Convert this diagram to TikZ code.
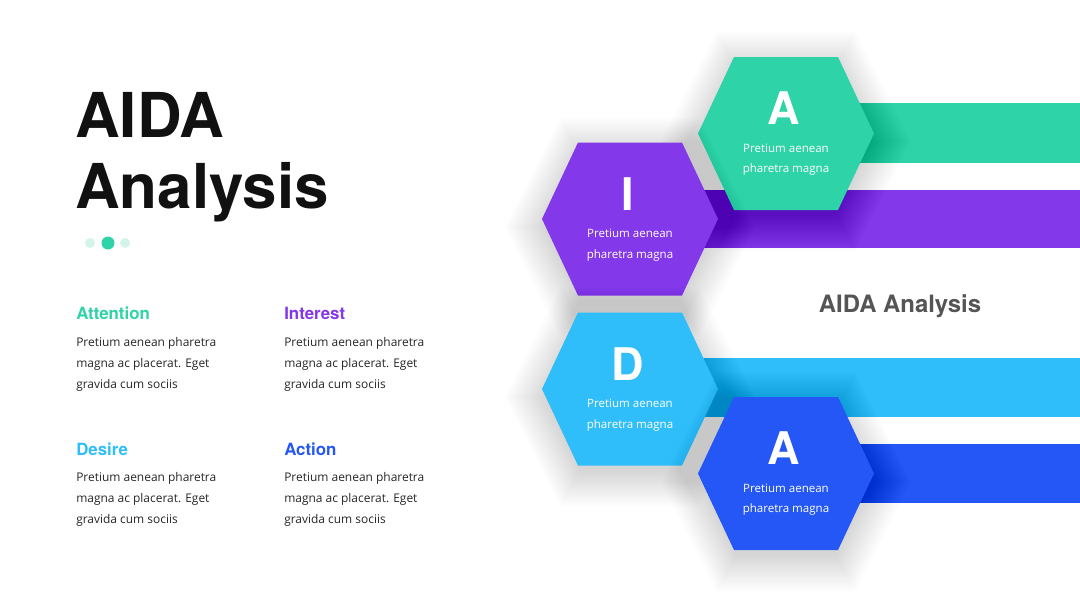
\documentclass[tikz,border=0pt]{standalone}
\usepackage{fontspec}
\setmainfont{Open Sans}
\newfontfamily\headfont{TeX Gyre Heros}
\usetikzlibrary{positioning}

\definecolor{aidagreen}{HTML}{2ED3A7}
\definecolor{aidaviolet}{HTML}{8338EA}
\definecolor{aidasky}{HTML}{2FBEFA}
\definecolor{aidablue}{HTML}{2457F5}
\definecolor{paledot}{HTML}{D4F4EA}
\definecolor{titleblack}{HTML}{111111}
\definecolor{bodygray}{HTML}{262626}
\definecolor{labelgray}{HTML}{555555}

\tikzset{
  titletxt/.style={align=left, inner sep=0pt, text=titleblack,
    font=\headfont\bfseries\fontsize{44}{50.5}\selectfont},
  headtxt/.style={inner sep=0pt, font=\headfont\bfseries\fontsize{12}{14}\selectfont},
  bodytxt/.style={align=left, inner sep=0pt, text=bodygray,
    font=\fontsize{8.5}{15}\selectfont},
  hexletter/.style={inner sep=0pt, text=white, font=\headfont\bfseries\fontsize{32}{36}\selectfont},
  hextxt/.style={align=center, inner sep=0pt, text=white, font=\fontsize{8.2}{14.5}\selectfont},
  softshade/.style={fill=black, fill opacity=0.0045},
}

\begin{document}
\begin{tikzpicture}[x=0.025cm, y=-0.025cm]
  \useasboundingbox[fill=white] (0,0) rectangle (1080,608);

  % left side: title and dots
  \node[titletxt, anchor=north west] (title) at (75,92) {AIDA\\Analysis};
  \fill[paledot] (90,243) circle (5);
  \fill[aidagreen] (108,243) circle (6.5);
  \fill[paledot] (125,243) circle (5);

  % the four columns of text
  \node[headtxt, text=aidagreen, anchor=base west] (atthead) at (76,319) {Attention};
  \node[bodytxt, below=12.8pt of atthead.base west, anchor=north west] (attbody)
    {Pretium aenean pharetra\\magna ac placerat. Eget\\gravida cum sociis};
  \node[headtxt, text=aidaviolet, anchor=base west] (inthead) at (284,319) {Interest};
  \node[bodytxt, below=12.8pt of inthead.base west, anchor=north west] (intbody)
    {Pretium aenean pharetra\\magna ac placerat. Eget\\gravida cum sociis};
  \node[headtxt, text=aidasky, anchor=base west] (deshead) at (76,455) {Desire};
  \node[bodytxt, below=12.1pt of deshead.base west, anchor=north west] (desbody)
    {Pretium aenean pharetra\\magna ac placerat. Eget\\gravida cum sociis};
  \node[headtxt, text=aidablue, anchor=base west] (acthead) at (284,455) {Action};
  \node[bodytxt, below=12.1pt of acthead.base west, anchor=north west] (actbody)
    {Pretium aenean pharetra\\magna ac placerat. Eget\\gravida cum sociis};

  % bars behind the hexagons
  \fill[aidagreen] (810,103) rectangle (1080,163);
  \fill[aidaviolet] (700,190) rectangle (1080,248);
  \fill[aidasky] (700,358) rectangle (1080,417);
  \fill[aidablue] (840,444) rectangle (1080,503);

  \node[font=\headfont\bfseries\fontsize{17}{20}\selectfont, text=labelgray,
    inner sep=0pt, anchor=base] (sidelabel) at (900,312) {AIDA Analysis};

  % hexagons, each with a soft shadow built up in thin layers
  \foreach \cx/\cy/\col/\ltr/\nm in {786/133.5/aidagreen/A/hexatt, 630/219/aidaviolet/I/hexint,
      630/389/aidasky/D/hexdes, 786/473.5/aidablue/A/hexact} {
    \foreach \k in {0,...,40}
      \fill[softshade] (\cx-86-\k,\cy+8) -- (\cx-50-0.5*\k,\cy-66-0.9*\k) -- (\cx+50+0.5*\k,\cy-66-0.9*\k)
        -- (\cx+86+\k,\cy+8) -- (\cx+50+0.5*\k,\cy+82+0.9*\k) -- (\cx-50-0.5*\k,\cy+82+0.9*\k) -- cycle;
    \fill[\col] (\cx-88,\cy) -- (\cx-52,\cy-76.5) -- (\cx+52,\cy-76.5)
      -- (\cx+88,\cy) -- (\cx+52,\cy+76.5) -- (\cx-52,\cy+76.5) -- cycle;
    \node[hexletter] (\nm-letter) at (\cx-2,\cy-25) {\ltr};
    \node[hextxt, anchor=north] (\nm-text) at (\cx,\cy+10) {Pretium aenean\\pharetra magna};
  }
\end{tikzpicture}
\end{document}
